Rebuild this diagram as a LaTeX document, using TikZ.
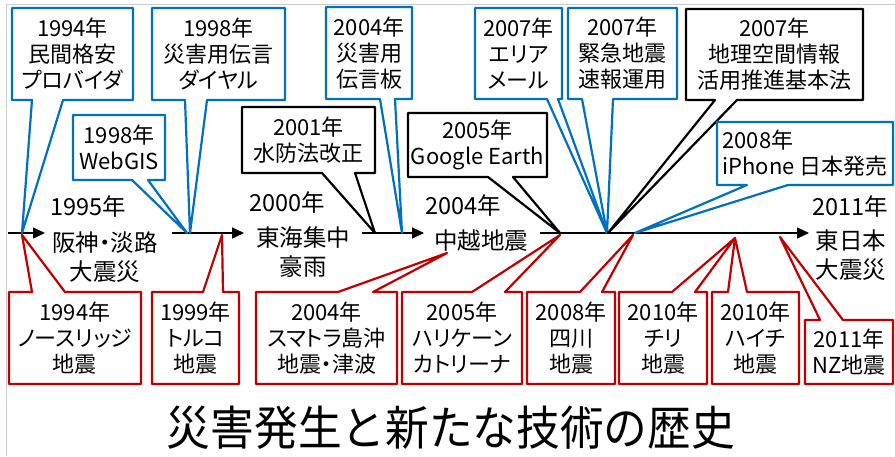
\documentclass[tikz,border=0pt]{standalone}
\usepackage{fontspec}
\setmainfont{Noto Sans CJK JP}[RawFeature={+palt}]
\newfontfamily\titlefont{Noto Sans CJK JP}[FakeStretch=0.93]
\usetikzlibrary{arrows.meta}
\definecolor{cblue}{RGB}{0,112,192}
\definecolor{cred}{RGB}{192,0,0}
\tikzset{
  txtbox/.style={inner sep=0pt, outer sep=0pt, align=center, font=\fontsize{22}{26}\selectfont},
  callout/.style={line width=2.2pt, line join=round},
  tl/.style={line width=1.5pt, -{Triangle[length=12pt,width=11pt]}},
  lbl/.style={inner sep=0pt, align=center, font=\fontsize{23.5}{29}\selectfont}
}
\begin{document}
\begin{tikzpicture}[x=1pt,y=-1pt]
\useasboundingbox (0,0) rectangle (895,456);
\draw[gray!40, line width=1pt] (6.5,456) -- (6.5,4.5) -- (895,4.5);

% timeline coordinates
\coordinate (s1) at (8,233);   \coordinate (e1) at (45,233);
\coordinate (s2) at (172,233); \coordinate (e2) at (244,233);
\coordinate (s3) at (362,233); \coordinate (e3) at (424,233);
\coordinate (s4) at (540,233); \coordinate (e4) at (809,233);
\draw[tl] (s1) -- (e1);
\draw[tl] (s2) -- (e2);
\draw[tl] (s3) -- (e3);
\draw[tl] (s4) -- (e4);

% timeline labels
\node[lbl] (y95) at (88,207) {1995年};
\node[lbl] (e95) at (105,257) {阪神・淡路\\大震災};
\node[lbl] (y00) at (287,203) {2000年};
\node[lbl] (e00) at (303,252) {東海集中\\豪雨};
\node[lbl] (y04) at (463,206) {2004年};
\node[lbl] (e04) at (481,241) {中越地震};
\node[lbl] (y11) at (850,207) {2011年};
\node[lbl] (e11) at (851,255) {東日本\\大震災};

% tips
\coordinate (p1) at (22,233);
\coordinate (p2) at (190,233);
\coordinate (p3) at (187,233);
\coordinate (p4) at (375,233);
\coordinate (p5) at (402,233);
\coordinate (p6) at (560,233);
\coordinate (p7) at (607,233);
\coordinate (p8) at (607,233);
\coordinate (p9) at (608,233);
\coordinate (p10) at (635,233);
\coordinate (q1) at (22,235);
\coordinate (q2) at (222,235);
\coordinate (q3) at (447,253);
\coordinate (q4) at (560,235);
\coordinate (q5) at (633,235);
\coordinate (q6) at (735,238);
\coordinate (q7) at (735,238);
\coordinate (q8) at (780,237);

% top callouts
\node[txtbox, minimum width=121pt, minimum height=92pt] (b1) at (72.5,54) {1994年\\民間格安\\プロバイダ};
\draw[callout, cblue] (b1.south west) -- (b1.north west) -- (b1.north east) -- (b1.south east) -- (63,0 |- b1.south) -- (p1) -- (32,0 |- b1.south) -- cycle;

\node[txtbox, minimum width=133pt, minimum height=92pt] (b2) at (218.5,54) {1998年\\災害用伝言\\ダイヤル};
\draw[callout, cblue] (b2.south west) -- (b2.north west) -- (b2.north east) -- (b2.south east) -- (207,0 |- b2.south) -- (p2) -- (185,0 |- b2.south) -- cycle;

\node[txtbox, minimum width=92pt, minimum height=65pt] (b3) at (119,147.5) {1998年\\WebGIS};
\draw[callout, cblue] (b3.south west) -- (b3.north west) -- (b3.north east) -- (b3.south east) -- (148,0 |- b3.south) -- (p3) -- (132,0 |- b3.south) -- cycle;

\node[txtbox, minimum width=133pt, minimum height=66pt] (b4) at (308.5,140) {2001年\\水防法改正};
\draw[callout, black] (b4.south west) -- (b4.north west) -- (b4.north east) -- (b4.south east) -- (355,0 |- b4.south) -- (p4) -- (322,0 |- b4.south) -- cycle;

\node[txtbox, minimum width=86pt, minimum height=92pt] (b5) at (369,53) {2004年\\災害用\\伝言板};
\draw[callout, cblue] (b5.south west) -- (b5.north west) -- (b5.north east) -- (b5.south east) -- (395,0 |- b5.south) -- (p5) -- (380,0 |- b5.south) -- cycle;

\node[txtbox, minimum width=139pt, minimum height=64pt] (b6) at (477.5,145) {2005年\\Google Earth};
\draw[callout, black] (b6.south west) -- (b6.north west) -- (b6.north east) -- (b6.south east) -- (513,0 |- b6.south) -- (p6) -- (488,0 |- b6.south) -- cycle;

\node[txtbox, minimum width=87pt, minimum height=91pt] (b7) at (518.5,53.5) {2007年\\エリア\\メール};
\draw[callout, cblue] (b7.south west) -- (b7.north west) -- (b7.north east) -- (b7.south east) -- (558,0 |- b7.south) -- (p7) -- (547,0 |- b7.south) -- cycle;

\node[txtbox, minimum width=109pt, minimum height=91pt] (b8) at (622.5,53.5) {2007年\\緊急地震\\速報運用};
\draw[callout, cblue] (b8.south west) -- (b8.north west) -- (b8.north east) -- (b8.south east) -- (613,0 |- b8.south) -- (p8) -- (582,0 |- b8.south) -- cycle;

\node[txtbox, minimum width=177pt, minimum height=91pt] (b9) at (774.5,54.5) {2007年\\地理空間情報\\活用推進基本法};
\draw[callout, black] (b9.south west) -- (b9.north west) -- (b9.north east) -- (b9.south east) -- (737,0 |- b9.south) -- (p9) -- (715,0 |- b9.south) -- cycle;

\node[txtbox, align=left, minimum width=176pt, minimum height=63pt] (b10) at (805,153.5) {2008年\\iPhone 日本発売};
\draw[callout, cblue] (b10.south west) -- (b10.north west) -- (b10.north east) -- (b10.south east) -- (788,0 |- b10.south) -- (p10) -- (747,0 |- b10.south) -- cycle;

% bottom callouts
\node[txtbox, minimum width=132pt, minimum height=92pt] (r1) at (75,338) {1994年\\ノースリッジ\\地震};
\draw[callout, cred] (r1.south west) -- (r1.north west) -- (32,0 |- r1.north) -- (q1) -- (65,0 |- r1.north) -- (r1.north east) -- (r1.south east) -- cycle;

\node[txtbox, minimum width=87pt, minimum height=92pt] (r2) at (195.5,338) {1999年\\トルコ\\地震};
\draw[callout, cred] (r2.south west) -- (r2.north west) -- (203,0 |- r2.north) -- (q2) -- (223,0 |- r2.north) -- (r2.north east) -- (r2.south east) -- cycle;

\node[txtbox, minimum width=141pt, minimum height=92pt] (r3) at (326.5,338) {2004年\\スマトラ島沖\\地震・津波};
\draw[callout, cred] (r3.south west) -- (r3.north west) -- (338,0 |- r3.north) -- (q3) -- (373,0 |- r3.north) -- (r3.north east) -- (r3.south east) -- cycle;

\node[txtbox, minimum width=120pt, minimum height=92pt] (r4) at (462,338) {2005年\\ハリケーン\\カトリーナ};
\draw[callout, cred] (r4.south west) -- (r4.north west) -- (472,0 |- r4.north) -- (q4) -- (505,0 |- r4.north) -- (r4.north east) -- (r4.south east) -- cycle;

\node[txtbox, minimum width=88pt, minimum height=92pt] (r5) at (571,338) {2008年\\四川\\地震};
\draw[callout, cred] (r5.south west) -- (r5.north west) -- (580,0 |- r5.north) -- (q5) -- (602,0 |- r5.north) -- (r5.north east) -- (r5.south east) -- cycle;

\node[txtbox, minimum width=88pt, minimum height=92pt] (r6) at (663,338) {2010年\\チリ\\地震};
\draw[callout, cred] (r6.south west) -- (r6.north west) -- (672,0 |- r6.north) -- (q6) -- (695,0 |- r6.north) -- (r6.north east) -- (r6.south east) -- cycle;

\node[txtbox, minimum width=87pt, minimum height=92pt] (r7) at (755.5,338) {2010年\\ハイチ\\地震};
\draw[callout, cred] (r7.south west) -- (r7.north west) -- (728,0 |- r7.north) -- (q7) -- (747,0 |- r7.north) -- (r7.north east) -- (r7.south east) -- cycle;

\node[txtbox, minimum width=88pt, minimum height=64pt] (r8) at (849,352) {2011年\\NZ地震};
\draw[callout, cred] (r8.south west) -- (r8.north west) -- (820,0 |- r8.north) -- (q8) -- (843,0 |- r8.north) -- (r8.north east) -- (r8.south east) -- cycle;

% title
\node[inner sep=0pt, font=\titlefont\fontsize{47}{50}\selectfont] (title) at (451,428) {災害発生と新たな技術の歴史};
\end{tikzpicture}
\end{document}
